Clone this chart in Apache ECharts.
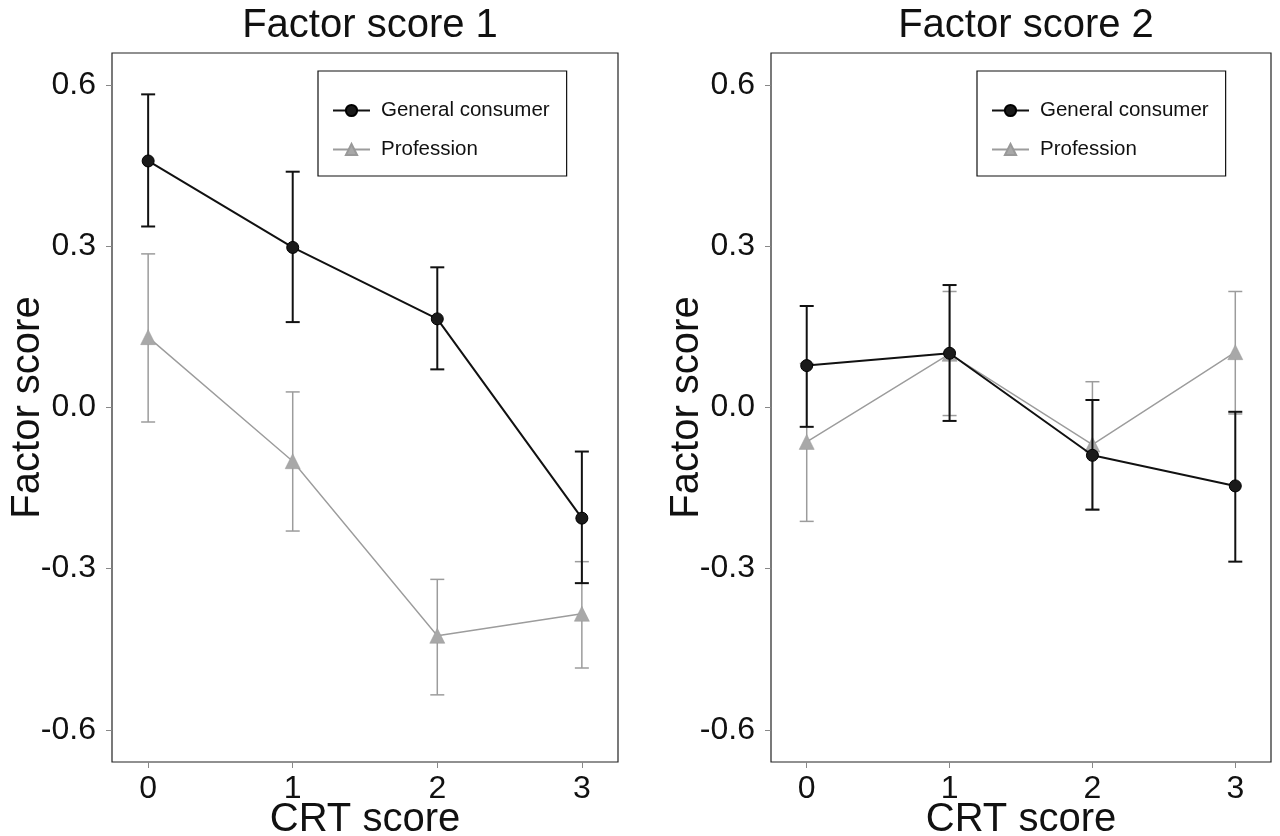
<!DOCTYPE html>
<html>
<head>
<meta charset="utf-8">
<script src="https://cdn.jsdelivr.net/npm/echarts@6/dist/echarts.min.js"></script>
<style>
html,body{margin:0;padding:0;background:#fff;}
#chart{width:1280px;height:836px;}
</style>
</head>
<body>
<div id="chart"></div>
<script>
// ---- data ----
const crtScores = [0, 1, 2, 3];
const yTickValues = [-0.6, -0.3, 0, 0.3, 0.6];
const panelTitles = ['Factor score 1', 'Factor score 2'];
const seriesNames = ['General consumer', 'Profession'];

// Factor score 1
const f1Consumer = [0.459, 0.298, 0.165, -0.206];
const f1ConsumerLow = [0.337, 0.159, 0.071, -0.327];
const f1ConsumerHigh = [0.583, 0.439, 0.261, -0.082];
const f1Profession = [0.131, -0.100, -0.425, -0.384];
const f1ProfessionLow = [-0.027, -0.230, -0.535, -0.485];
const f1ProfessionHigh = [0.286, 0.029, -0.320, -0.287];

// Factor score 2
const f2Consumer = [0.078, 0.101, -0.089, -0.146];
const f2ConsumerLow = [-0.036, -0.025, -0.190, -0.287];
const f2ConsumerHigh = [0.189, 0.228, 0.014, -0.008];
const f2Profession = [-0.064, 0.100, -0.069, 0.103];
const f2ProfessionLow = [-0.212, -0.015, -0.191, -0.012];
const f2ProfessionHigh = [0.082, 0.216, 0.048, 0.216];

const panels = [
  {c: f1Consumer, cl: f1ConsumerLow, ch: f1ConsumerHigh, p: f1Profession, pl: f1ProfessionLow, ph: f1ProfessionHigh},
  {c: f2Consumer, cl: f2ConsumerLow, ch: f2ConsumerHigh, p: f2Profession, pl: f2ProfessionLow, ph: f2ProfessionHigh}
];

const FONT = 'Liberation Sans, Arial, sans-serif';
const BLACK = '#111111';
const GREY = '#9c9c9c';

const grids = [
  {left: 112, top: 53, width: 506, height: 709},
  {left: 771, top: 53, width: 500, height: 709}
];

function errBar(color, width) {
  return function (params, api) {
    const x = api.value(0), lo = api.value(1), hi = api.value(2);
    const pLo = api.coord([x, lo]);
    const pHi = api.coord([x, hi]);
    const cap = 7;
    const style = {stroke: color, lineWidth: width, fill: null};
    return {
      type: 'group',
      children: [
        {type: 'line', shape: {x1: pLo[0], y1: pLo[1], x2: pHi[0], y2: pHi[1]}, style: style},
        {type: 'line', shape: {x1: pLo[0] - cap, y1: pLo[1], x2: pLo[0] + cap, y2: pLo[1]}, style: style},
        {type: 'line', shape: {x1: pHi[0] - cap, y1: pHi[1], x2: pHi[0] + cap, y2: pHi[1]}, style: style}
      ]
    };
  };
}

const xAxes = [], yAxes = [], series = [], titles = [], legends = [];
panels.forEach((pd, i) => {
  const g = grids[i];
  xAxes.push({
    type: 'value', gridIndex: i, min: -0.25, max: 3.25,
    name: 'CRT score', nameLocation: 'middle', nameGap: 38, nameMoveOverlap: false,
    nameTextStyle: {fontFamily: FONT, fontSize: 40, color: '#111'},
    axisLine: {show: false, onZero: false},
    axisTick: {show: true, length: 6, lineStyle: {color: '#888'}, customValues: crtScores},
    axisLabel: {fontFamily: FONT, fontSize: 32, color: '#111', margin: 11, customValues: crtScores,
      formatter: v => String(v)},
    splitLine: {show: false}
  });
  yAxes.push({
    type: 'value', gridIndex: i, min: -0.66, max: 0.66,
    name: 'Factor score', nameLocation: 'middle', nameGap: 64, nameMoveOverlap: false,
    nameTextStyle: {fontFamily: FONT, fontSize: 40, color: '#111'},
    axisLine: {show: false, onZero: false},
    axisTick: {show: true, length: 6, lineStyle: {color: '#888'}, customValues: yTickValues},
    axisLabel: {fontFamily: FONT, fontSize: 32, color: '#111', margin: 16, customValues: yTickValues,
      formatter: v => v.toFixed(1)},
    splitLine: {show: false}
  });
  titles.push({
    text: panelTitles[i], left: g.left + g.width / 2, top: 1, textAlign: 'center',
    textStyle: {fontFamily: FONT, fontSize: 40, fontWeight: 'normal', color: '#111'}
  });
  legends.push({
    data: seriesNames, orient: 'vertical',
    left: i === 0 ? 318 : 977, top: 71,
    padding: [29, 17, 16, 14], itemGap: 18,
    itemWidth: 37, itemHeight: 14,
    borderColor: '#111', borderWidth: 1.2,
    textStyle: {fontFamily: FONT, fontSize: 20.5, color: '#111', padding: [0, 0, 0, 6]},
    selectedMode: false
  });
  // Profession
  series.push({
    name: 'Profession_err' + i, type: 'custom', xAxisIndex: i, yAxisIndex: i, z: 2,
    renderItem: errBar(GREY, 1.5),
    data: crtScores.map((x, k) => [x, pd.pl[k], pd.ph[k]])
  });
  series.push({
    name: 'Profession', type: 'line', xAxisIndex: i, yAxisIndex: i, z: 3,
    data: crtScores.map((x, k) => [x, pd.p[k]]),
    symbol: 'triangle', symbolSize: 15,
    lineStyle: {color: GREY, width: 1.4},
    itemStyle: {color: '#a8a8a8', borderColor: '#999', borderWidth: 0.5},
    animation: false
  });
  // General consumer
  series.push({
    name: 'General consumer_err' + i, type: 'custom', xAxisIndex: i, yAxisIndex: i, z: 4,
    renderItem: errBar(BLACK, 2),
    data: crtScores.map((x, k) => [x, pd.cl[k], pd.ch[k]])
  });
  series.push({
    name: 'General consumer', type: 'line', xAxisIndex: i, yAxisIndex: i, z: 5,
    data: crtScores.map((x, k) => [x, pd.c[k]]),
    symbol: 'circle', symbolSize: 12,
    lineStyle: {color: BLACK, width: 2},
    itemStyle: {color: '#1a1a1a', borderColor: '#000', borderWidth: 1},
    animation: false
  });
});

const chart = echarts.init(document.getElementById('chart'), null, {renderer: 'canvas'});
chart.setOption({
  backgroundColor: '#ffffff',
  animation: false,
  title: titles,
  legend: legends,
  grid: grids.map(g => Object.assign({show: true, borderColor: '#222', borderWidth: 1.2,
    backgroundColor: 'transparent', containLabel: false, outerBoundsMode: 'none'}, g)),
  xAxis: xAxes,
  yAxis: yAxes,
  series: series
});
</script>
</body>
</html>
